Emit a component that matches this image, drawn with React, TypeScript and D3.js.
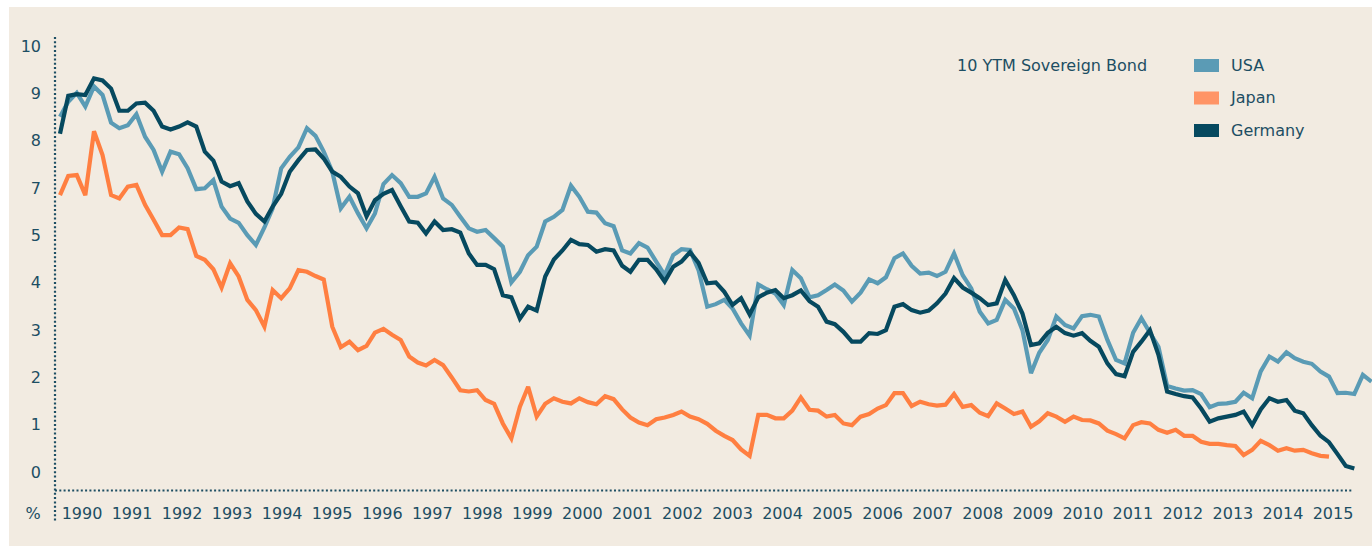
import React from 'react';
import * as d3 from 'd3';

// 10-year sovereign bond yields (%), one reading every two months from Jan 1990
const usa = [
  8.34, 8.69, 8.9, 8.58, 9.05, 8.85, 8.2, 8.07, 8.14, 8.4, 7.87, 7.56, 7.05, 7.52, 7.46, 7.13, 6.64, 6.66, 6.85, 6.23,
  5.95, 5.85, 5.56, 5.33, 5.74, 6.19, 7.13, 7.4, 7.62, 8.07, 7.89, 7.52, 7.05, 6.19, 6.46, 6.07, 5.72, 6.07, 6.76, 6.97,
  6.78, 6.46, 6.46, 6.54, 6.93, 6.42, 6.27, 5.99, 5.72, 5.64, 5.68, 5.49, 5.29, 4.45, 4.7, 5.09, 5.29, 5.88, 5.99, 6.15,
  6.72, 6.46, 6.11, 6.09, 5.84, 5.77, 5.2, 5.13, 5.37, 5.27, 4.94, 4.62, 5.09, 5.23, 5.21, 4.74, 3.88, 3.94, 4.04, 3.84,
  3.49, 3.2, 4.4, 4.29, 4.19, 3.92, 4.74, 4.55, 4.1, 4.15, 4.27, 4.4, 4.26, 4.0, 4.21, 4.52, 4.43, 4.57, 5.02, 5.13,
  4.84, 4.66, 4.68, 4.6, 4.7, 5.13, 4.62, 4.31, 3.76, 3.49, 3.57, 4.04, 3.84, 3.33, 2.32, 2.8, 3.1, 3.65, 3.45, 3.37,
  3.66, 3.69, 3.65, 3.1, 2.63, 2.55, 3.27, 3.61, 3.27, 2.94, 2.02, 1.96, 1.91, 1.92, 1.83, 1.52, 1.6, 1.61, 1.65, 1.86,
  1.73, 2.36, 2.71, 2.59, 2.81, 2.67, 2.59, 2.54, 2.36, 2.24, 1.85, 1.86, 1.83, 2.28, 2.12,
];

const japan = [
  6.5, 6.95, 6.97, 6.5, 8.0, 7.44, 6.5, 6.42, 6.7, 6.74, 6.27, 5.92, 5.56, 5.56, 5.74, 5.7, 5.07, 4.98, 4.76, 4.33,
  4.9, 4.59, 4.04, 3.8, 3.41, 4.27, 4.08, 4.31, 4.74, 4.7, 4.6, 4.52, 3.41, 2.93, 3.06, 2.86, 2.96, 3.27, 3.36, 3.22,
  3.1, 2.71, 2.57, 2.5, 2.63, 2.51, 2.22, 1.92, 1.89, 1.92, 1.69, 1.6, 1.14, 0.79, 1.53, 2.0, 1.3, 1.6, 1.73, 1.65,
  1.61, 1.73, 1.64, 1.59, 1.78, 1.71, 1.47, 1.28, 1.16, 1.1, 1.24, 1.28, 1.34, 1.42, 1.3, 1.24, 1.13, 0.97, 0.85, 0.75,
  0.53, 0.38, 1.34, 1.34, 1.26, 1.26, 1.44, 1.75, 1.46, 1.44, 1.3, 1.34, 1.14, 1.1, 1.3, 1.36, 1.49, 1.57, 1.85, 1.85,
  1.55, 1.65, 1.59, 1.56, 1.58, 1.83, 1.53, 1.57, 1.39, 1.31, 1.61, 1.49, 1.36, 1.42, 1.06, 1.19, 1.38, 1.3, 1.18, 1.3,
  1.22, 1.21, 1.14, 0.97, 0.89, 0.79, 1.1, 1.17, 1.14, 0.99, 0.92, 0.99, 0.85, 0.85, 0.71, 0.66, 0.66, 0.63, 0.61, 0.4,
  0.52, 0.73, 0.63, 0.5, 0.56, 0.5, 0.52, 0.44, 0.38, 0.36,
];

const germany = [
  7.94, 8.83, 8.87, 8.85, 9.24, 9.19, 9.0, 8.48, 8.48, 8.65, 8.67, 8.48, 8.11, 8.04, 8.11, 8.21, 8.11, 7.52, 7.31, 6.82,
  6.71, 6.78, 6.35, 6.06, 5.88, 6.23, 6.53, 7.05, 7.32, 7.56, 7.57, 7.36, 7.05, 6.93, 6.7, 6.54, 6.0, 6.38, 6.53, 6.62,
  6.24, 5.88, 5.85, 5.6, 5.88, 5.68, 5.7, 5.62, 5.13, 4.86, 4.86, 4.76, 4.15, 4.1, 3.6, 3.88, 3.79, 4.59, 4.99, 5.2,
  5.45, 5.35, 5.33, 5.17, 5.23, 5.2, 4.84, 4.7, 4.98, 4.98, 4.76, 4.47, 4.82, 4.94, 5.16, 4.91, 4.43, 4.45, 4.23, 3.92,
  4.08, 3.7, 4.1, 4.21, 4.27, 4.08, 4.15, 4.26, 4.01, 3.88, 3.53, 3.47, 3.29, 3.06, 3.06, 3.26, 3.24, 3.33, 3.88, 3.94,
  3.8, 3.74, 3.79, 3.96, 4.19, 4.55, 4.33, 4.21, 4.08, 3.92, 3.96, 4.51, 4.15, 3.72, 2.98, 3.02, 3.27, 3.41, 3.26, 3.2,
  3.26, 3.08, 2.94, 2.55, 2.3, 2.25, 2.82, 3.06, 3.33, 2.75, 1.89, 1.83, 1.78, 1.75, 1.49, 1.18, 1.26, 1.3, 1.34, 1.42,
  1.1, 1.47, 1.73, 1.65, 1.69, 1.44, 1.38, 1.1, 0.85, 0.7, 0.42, 0.14, 0.08,
];

// the printed axis skips "6"; labels are spaced evenly
const yTickLabels = ['10', '9', '8', '7', '5', '4', '3', '2', '1', '0'];
const yearLabels = [
  '1990', '1991', '1992', '1993', '1994', '1995', '1996', '1997', '1998', '1999', '2000', '2001', '2002',
  '2003', '2004', '2005', '2006', '2007', '2008', '2009', '2010', '2011', '2012', '2013', '2014', '2015',
];

const legendTitle = '10 YTM Sovereign Bond';
const seriesNames = ['USA', 'Japan', 'Germany'];

const W = 1372;
const H = 546;
const textColor = '#1d4e63';
const font = '"DejaVu Sans", sans-serif';
const fontSize = 16;

const lineColors: Record<string, string> = { USA: '#5a9bb5', Japan: '#ff7f41', Germany: '#06495f' };
const swatchColors: Record<string, string> = { USA: '#5b9bb5', Japan: '#ff9466', Germany: '#06495f' };

const sampleDate = (i: number) => new Date(1990, i * 2, 1);

const App = () => {
  const x = d3.scaleTime()
    .domain([new Date(1990, 0, 1), new Date(2016, 0, 1)])
    .range([60, 60 + 26 * 51.1]);
  const y = d3.scaleLinear().domain([0, 10]).range([472, 46]);

  // label positions (evenly spaced, independent of the data scales)
  const yLabel = d3.scalePoint<string>().domain(yTickLabels).range([46, 472]);
  const xLabel = d3.scalePoint<string>().domain(yearLabels).range([82, 1333]);
  const legendRow = d3.scalePoint<string>().domain(seriesNames).range([65, 130]);

  const line = d3.line<number>()
    .x((_, i) => x(sampleDate(i)))
    .y(d => y(d));

  const series: [string, number[]][] = [
    ['Japan', japan],
    ['USA', usa],
    ['Germany', germany],
  ];

  return (
    <svg width={W} height={H} style={{ position: 'absolute', left: 0, top: 0 }}>
      <rect x={9} y={7} width={W - 9} height={H - 7} fill="#f2ebe1" />

      {/* dotted axes */}
      <line x1={55} x2={55} y1={37} y2={521} stroke={textColor} strokeWidth={2.2} strokeDasharray="2 2.3" />
      <line x1={55} x2={1352} y1={490.5} y2={490.5} stroke={textColor} strokeWidth={2.2} strokeDasharray="2 2.3" />

      {yTickLabels.map(t => (
        <text key={t} x={41} y={yLabel(t)} dy="0.35em" textAnchor="end"
          fontFamily={font} fontSize={fontSize} fill={textColor}>{t}</text>
      ))}
      <text x={33} y={513} dy="0.35em" textAnchor="middle" fontFamily={font} fontSize={fontSize} fill={textColor}>%</text>
      {yearLabels.map(t => (
        <text key={t} x={xLabel(t)} y={513} dy="0.35em" textAnchor="middle"
          fontFamily={font} fontSize={fontSize} fill={textColor}>{t}</text>
      ))}

      {series.map(([name, values]) => (
        <path key={name} d={line(values) || ''} fill="none" stroke={lineColors[name]}
          strokeWidth={4.2} strokeLinejoin="miter" strokeMiterlimit={3} />
      ))}

      {/* legend */}
      <text x={957} y={65} dy="0.35em" fontFamily={font} fontSize={fontSize} fill={textColor}>{legendTitle}</text>
      {seriesNames.map(name => (
        <g key={name}>
          <rect x={1194} y={(legendRow(name) || 0) - 6} width={25} height={13} fill={swatchColors[name]} />
          <text x={1231} y={legendRow(name)} dy="0.35em" fontFamily={font} fontSize={fontSize} fill={textColor}>{name}</text>
        </g>
      ))}
    </svg>
  );
};

export default App;
